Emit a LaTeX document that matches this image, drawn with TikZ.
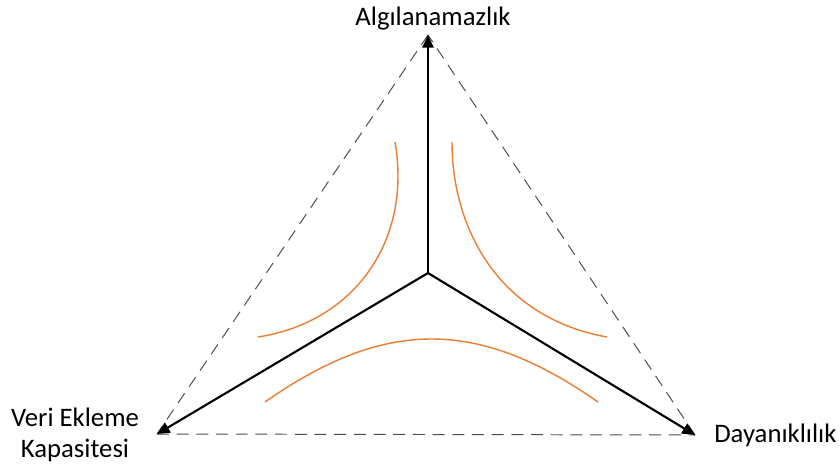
\documentclass[tikz,border=0pt]{standalone}
\usepackage{fontspec}
\setmainfont{Carlito}
\usetikzlibrary{arrows.meta}
\definecolor{tradeorange}{RGB}{237,125,49}

\begin{document}
\begin{tikzpicture}[
  x=0.025cm, y=-0.025cm,
  font=\fontsize{19}{21.5}\selectfont,
  axis/.style={draw=black, line width=1.5pt, -{Triangle[length=9pt, width=8pt]}},
  rim/.style={draw=black!70, line width=0.7pt, dash pattern=on 8.5pt off 5.5pt},
  trade/.style={draw=tradeorange, line width=1pt},
  lbl/.style={inner sep=0pt, anchor=base}
]
\useasboundingbox (0,0) rectangle (840,468);

\coordinate (o) at (428, 273);
\coordinate (a) at (428, 35);
\coordinate (v) at (157, 434);
\coordinate (d) at (695, 435);

\node[lbl] (alg) at (433, 25) {Algılanamazlık};
\node[lbl, align=center] (veri) at (75, 457) {Veri Ekleme\\Kapasitesi};
\node[lbl, anchor=base west] (day) at (714, 442) {Dayanıklılık};

\draw[rim] (a) -- (v);
\draw[rim] (v) -- (d);
\draw[rim] (d) -- (a);

\draw[axis] (o) -- (a);
\draw[axis] (o) -- (v);
\draw[axis] (o) -- (d);

% orange curves
\draw[trade] (395, 142) .. controls (412, 240) and (355, 322) .. (258, 337);
\draw[trade] (452, 142) .. controls (452, 230) and (500, 318) .. (607, 337);
\draw[trade] (265, 402) .. controls (385, 318) and (478, 318) .. (598, 402);
\end{tikzpicture}
\end{document}
